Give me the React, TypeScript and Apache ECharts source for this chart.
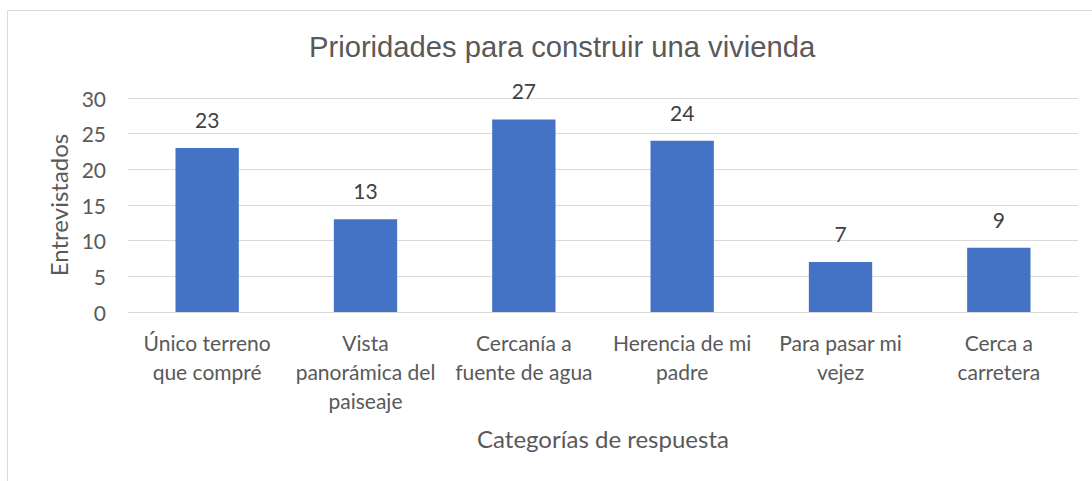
import React, { useEffect, useRef } from "react";
import * as echarts from "echarts";

const categories = [
  "Único terreno\nque compré",
  "Vista\npanorámica del\npaiseaje",
  "Cercanía a\nfuente de agua",
  "Herencia de mi\npadre",
  "Para pasar mi\nvejez",
  "Cerca a\ncarretera",
];
const values = [23, 13, 27, 24, 7, 9];
const yTicks = { min: 0, max: 30, interval: 5 };
const titleText = "Prioridades para construir una vivienda";
const yName = "Entrevistados";
const xName = "Categorías de respuesta";

export default function App() {
  const ref = useRef<HTMLDivElement>(null);
  useEffect(() => {
    document.body.style.margin = "0";
    const chart = echarts.init(ref.current!, undefined, { renderer: "svg" });
    const font = "Lato";
    const txt = "#595959";
    chart.setOption({
      animation: false,
      backgroundColor: "#ffffff",
      title: {
        text: titleText,
        left: 309,
        top: 32,
        padding: 0,
        textStyle: {
          fontFamily: "Liberation Sans",
          fontSize: 29.2,
          fontWeight: "normal",
          color: txt,
        },
      },
      graphic: [
        {
          type: "rect",
          shape: { x: 7.5, y: 10.5, width: 1200, height: 600 },
          style: { fill: "none", stroke: "#d9d9d9", lineWidth: 1 },
          silent: true,
        },
      ],
      grid: { left: 128, right: 14, top: 98, bottom: 169, containLabel: false },
      xAxis: {
        type: "category",
        data: categories,
        name: xName,
        nameLocation: "middle",
        nameGap: 114,
        nameTextStyle: { fontFamily: font, fontSize: 24, color: txt },
        axisLine: { lineStyle: { color: "#d9d9d9", width: 1 } },
        axisTick: { show: false },
        axisLabel: {
          interval: 0,
          margin: 16,
          fontFamily: font,
          fontSize: 21,
          lineHeight: 29,
          color: txt,
        },
      },
      yAxis: {
        type: "value",
        min: yTicks.min,
        max: yTicks.max,
        interval: yTicks.interval,
        name: yName,
        nameLocation: "middle",
        nameGap: 57,
        nameTextStyle: { fontFamily: font, fontSize: 24, color: txt },
        axisLine: { show: false },
        axisTick: { show: false },
        splitLine: { lineStyle: { color: "#d9d9d9", width: 1 } },
        axisLabel: { margin: 22, fontFamily: font, fontSize: 21, color: txt },
      },
      series: [
        {
          type: "bar",
          data: values,
          barWidth: "40%",
          itemStyle: { color: "#4472C4" },
          label: {
            show: true,
            position: "top",
            distance: 18,
            fontFamily: font,
            fontSize: 21,
            color: "#404040",
          },
        },
      ],
    });
    return () => chart.dispose();
  }, []);
  return <div ref={ref} style={{ width: 1092, height: 481 }} />;
}
